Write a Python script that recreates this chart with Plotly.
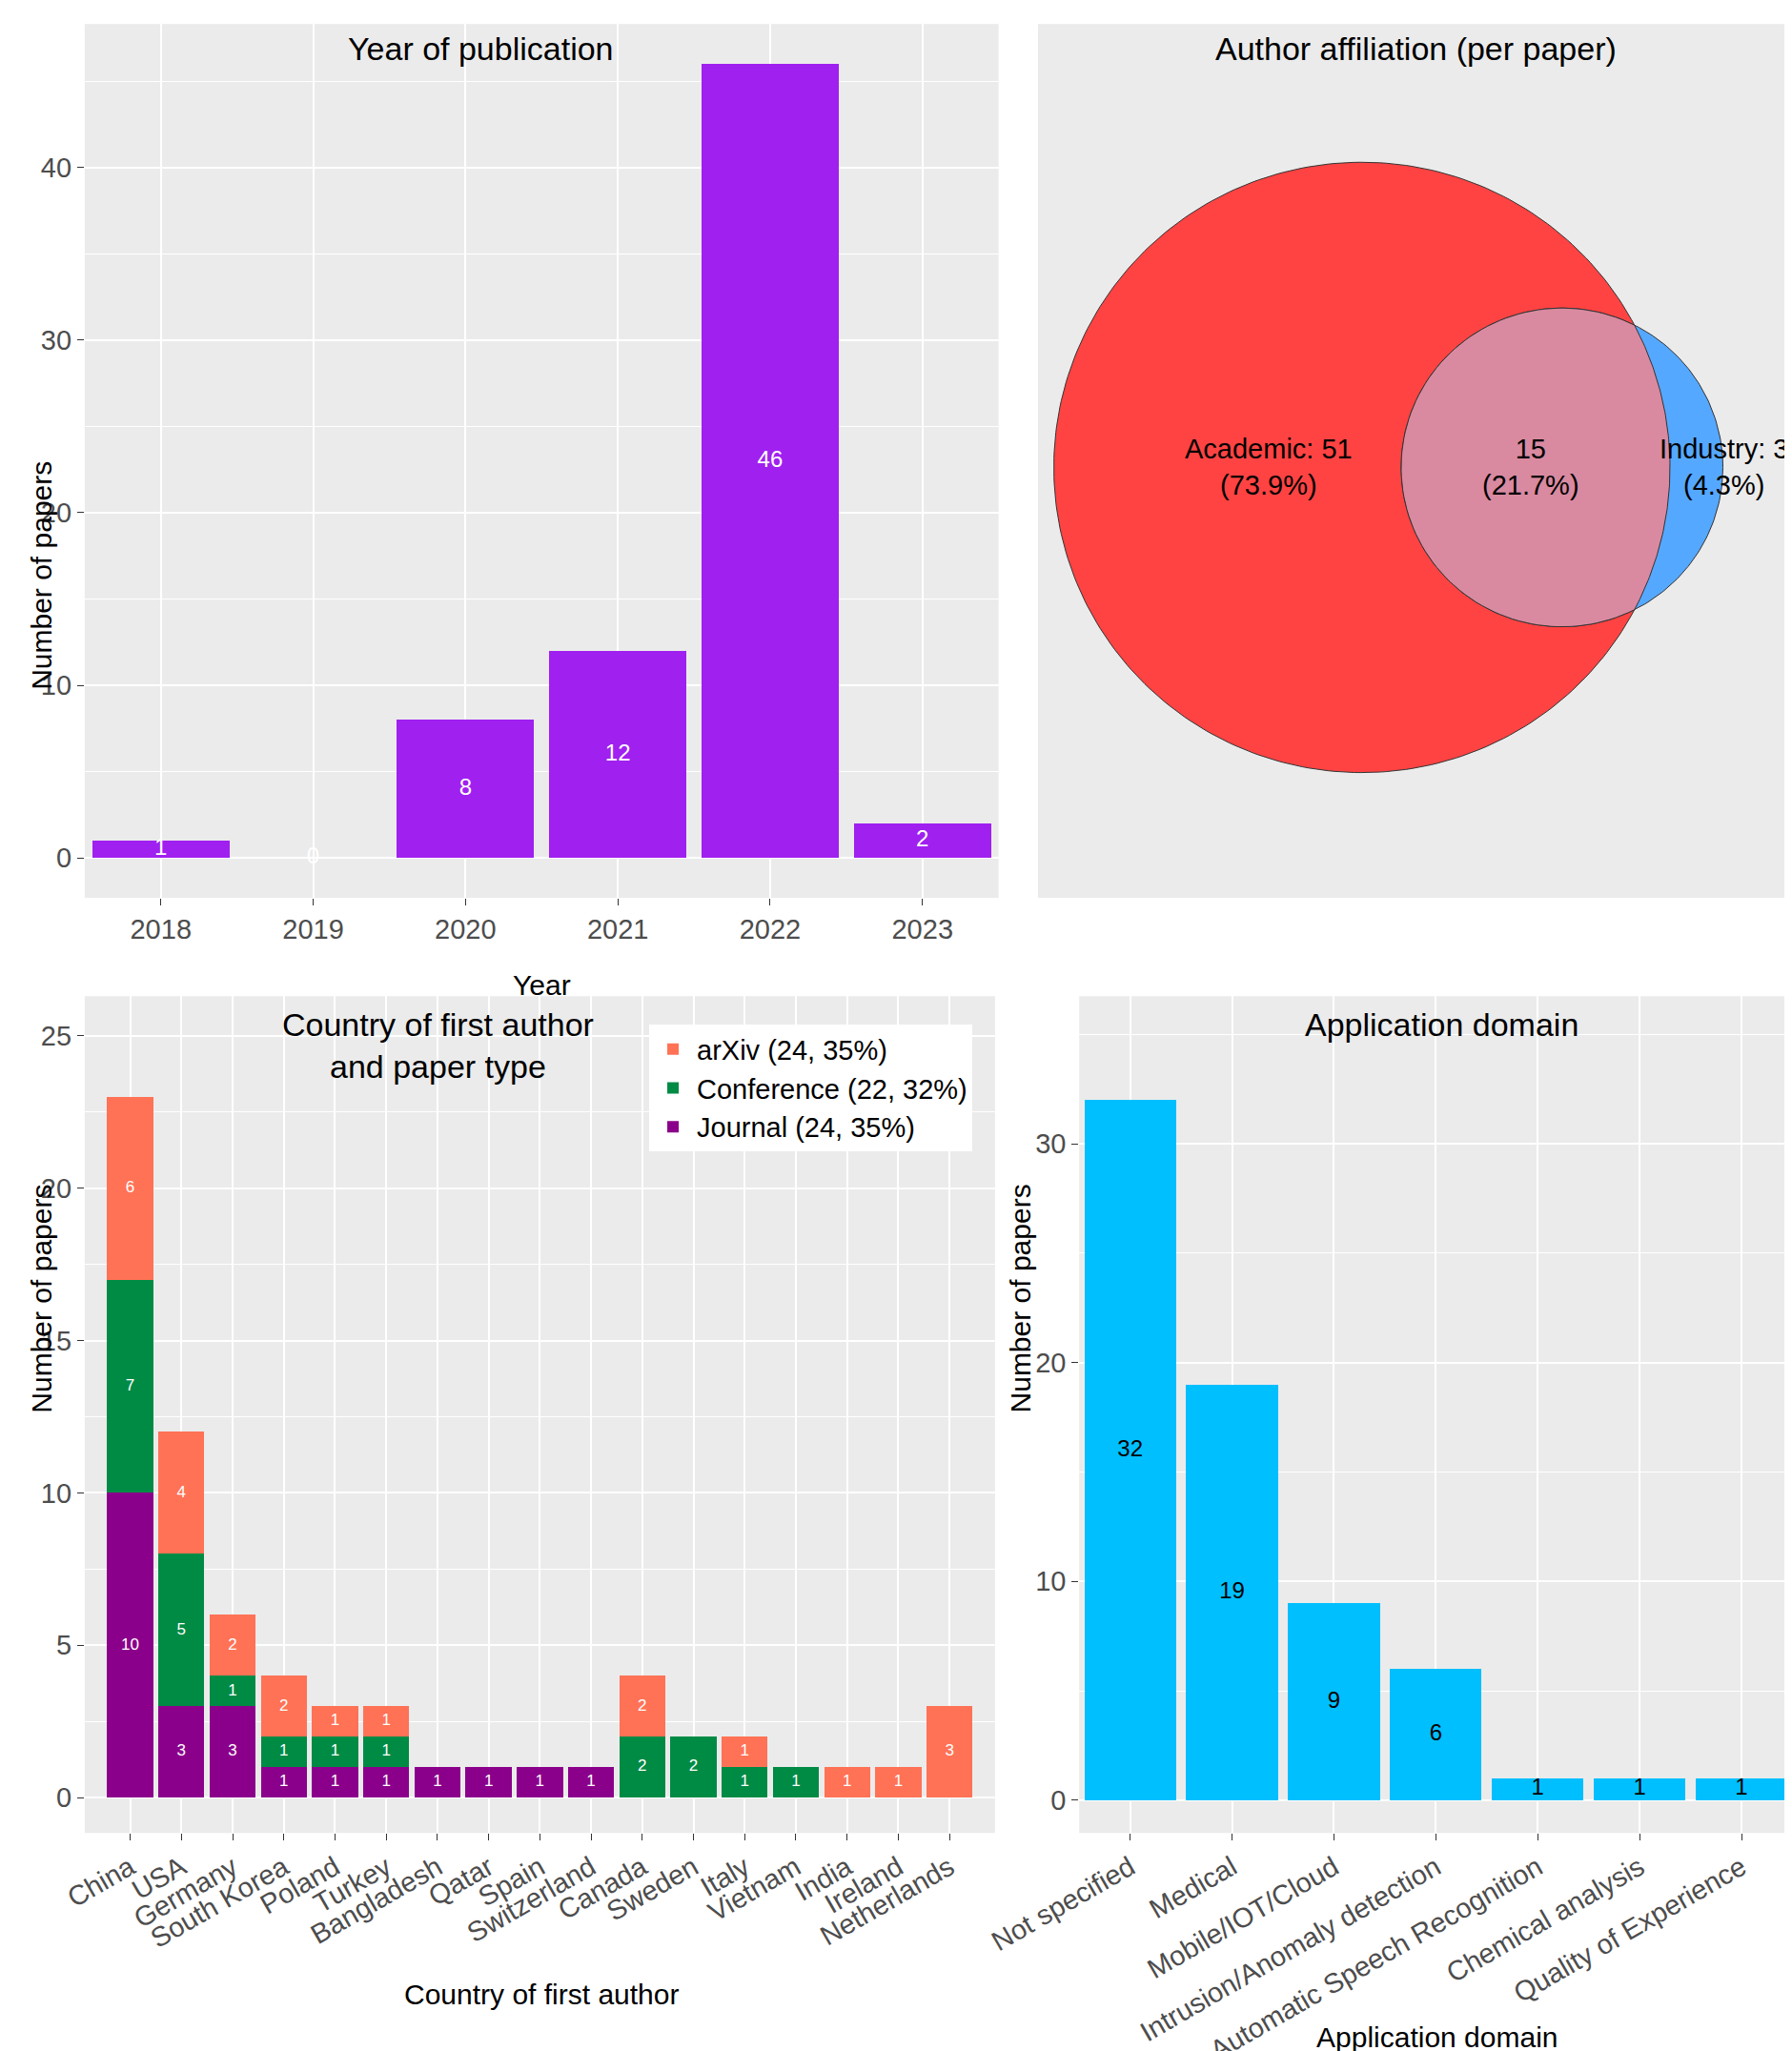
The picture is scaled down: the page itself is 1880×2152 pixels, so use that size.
import numpy as np
import plotly.graph_objects as go

years = ["2018", "2019", "2020", "2021", "2022", "2023"]
year_counts = [1, 0, 8, 12, 46, 2]

venn_academic_only = 51
venn_both = 15
venn_industry_only = 3

countries = ["China", "USA", "Germany", "South Korea", "Poland", "Turkey", "Bangladesh", "Qatar",
             "Spain", "Switzerland", "Canada", "Sweden", "Italy", "Vietnam", "India", "Ireland", "Netherlands"]
journal = [10, 3, 3, 1, 1, 1, 1, 1, 1, 1, 0, 0, 0, 0, 0, 0, 0]
conference = [7, 5, 1, 1, 1, 1, 0, 0, 0, 0, 2, 2, 1, 1, 0, 0, 0]
arxiv = [6, 4, 2, 2, 1, 1, 0, 0, 0, 0, 2, 0, 1, 0, 1, 1, 3]
type_names = ["Journal (24, 35%)", "Conference (22, 32%)", "arXiv (24, 35%)"]

domains = ["Not specified", "Medical", "Mobile/IOT/Cloud", "Intrusion/Anomaly detection",
           "Automatic Speech Recognition", "Chemical analysis", "Quality of Experience"]
domain_counts = [32, 19, 9, 6, 1, 1, 1]

FONT = "Liberation Sans, Arial, sans-serif"
BG = "#EBEBEB"
fig = go.Figure()

fig.add_trace(go.Bar(x=years, y=year_counts, marker_color="#A020F0", marker_line_width=0,
                     showlegend=False, xaxis="x", yaxis="y"))
fig.add_trace(go.Scatter(x=years, y=[v / 2 for v in year_counts], text=[str(v) for v in year_counts],
                         mode="text", textfont=dict(color="white", size=24, family=FONT),
                         showlegend=False, xaxis="x", yaxis="y", hoverinfo="skip"))

cols = ["#8B008B", "#008B45", "#FF7256"]
base = [0] * len(countries)
for name, vals, c in zip(type_names, [journal, conference, arxiv], cols):
    fig.add_trace(go.Bar(x=countries, y=vals, name=name, marker_color=c, marker_line_width=0,
                         xaxis="x3", yaxis="y3"))
    mids = [b + v / 2 for b, v in zip(base, vals)]
    fig.add_trace(go.Scatter(x=countries, y=mids, text=[str(v) if v else "" for v in vals],
                             mode="text", textfont=dict(color="white", size=17, family=FONT),
                             showlegend=False, xaxis="x3", yaxis="y3", hoverinfo="skip"))
    base = [b + v for b, v in zip(base, vals)]

fig.add_trace(go.Bar(x=domains, y=domain_counts, marker_color="#00BFFF", marker_line_width=0,
                     showlegend=False, xaxis="x4", yaxis="y4"))
fig.add_trace(go.Scatter(x=domains, y=[v / 2 for v in domain_counts], text=[str(v) for v in domain_counts],
                         mode="text", textfont=dict(color="black", size=24, family=FONT),
                         showlegend=False, xaxis="x4", yaxis="y4", hoverinfo="skip"))

a_tot = venn_academic_only + venn_both
i_tot = venn_industry_only + venn_both
R1 = 234.0
R2 = R1 * np.sqrt(i_tot / a_tot)
c1 = (1028.0, 352.0)
c2 = (1180.0, 352.0)
t = np.linspace(0, 2 * np.pi, 300)
fig.add_trace(go.Scatter(x=c1[0] + R1 * np.cos(t), y=c1[1] + R1 * np.sin(t), fill="toself",
                         fillcolor="#FF4343", line=dict(color="#333", width=1), mode="lines",
                         showlegend=False, xaxis="x2", yaxis="y2", hoverinfo="skip"))
fig.add_trace(go.Scatter(x=c2[0] + R2 * np.cos(t), y=c2[1] + R2 * np.sin(t), fill="toself",
                         fillcolor="#55A8FF", line=dict(color="#333", width=1), mode="lines",
                         showlegend=False, xaxis="x2", yaxis="y2", hoverinfo="skip"))
d = c2[0] - c1[0]
xi = (d ** 2 - R2 ** 2 + R1 ** 2) / (2 * d)
yi = np.sqrt(R1 ** 2 - xi ** 2)
a1 = np.arctan2(yi, xi)
a2 = np.arctan2(yi, xi - d)
s1 = np.linspace(-a1, a1, 100)
s2 = np.linspace(a2, 2 * np.pi - a2, 100)
lx = np.concatenate([c1[0] + R1 * np.cos(s1), c2[0] + R2 * np.cos(s2)])
ly = np.concatenate([c1[1] + R1 * np.sin(s1), c2[1] + R2 * np.sin(s2)])
fig.add_trace(go.Scatter(x=lx, y=ly, fill="toself", fillcolor="#D98AA0", line=dict(color="#333", width=1),
                         mode="lines", showlegend=False, xaxis="x2", yaxis="y2", hoverinfo="skip"))
tot = a_tot + venn_industry_only
venn_labels = [
    (957, f"Academic: {venn_academic_only}<br>({100*venn_academic_only/tot:.1f}%)"),
    (1156, f"{venn_both}<br>({100*venn_both/tot:.1f}%)"),
    (1303, f"Industry: {venn_industry_only}<br>({100*venn_industry_only/tot:.1f}%)"),
]
for x, txt in venn_labels:
    fig.add_annotation(x=x, y=352, text=txt, showarrow=False, xref="x2", yref="y2",
                       font=dict(size=29, color="black", family=FONT))

ax_common = dict(showgrid=True, gridcolor="white", gridwidth=2, ticks="outside", ticklen=7,
                 tickcolor="#333", tickfont=dict(size=29, color="#4D4D4D", family=FONT), zeroline=False,
                 showline=False, automargin=False)
TS = 30

fig.update_layout(
    width=1880, height=2152, margin=dict(l=0, r=0, t=0, b=0),
    paper_bgcolor="white", plot_bgcolor=BG, bargap=0.1, barmode="stack",
    font=dict(family=FONT, color="black"),
    xaxis=dict(ax_common, domain=[0.043, 0.553], anchor="y"),
    yaxis=dict(ax_common, domain=[0.566, 0.992], anchor="x", range=[-2.3, 48.3], tickvals=[0, 10, 20, 30, 40],
               minor=dict(showgrid=True, gridcolor="white", gridwidth=1, tickvals=[5, 15, 25, 35, 45])),
    xaxis2=dict(domain=[0.575, 0.996], anchor="y2", range=[782, 1355], visible=False),
    yaxis2=dict(domain=[0.566, 0.992], anchor="x2", range=[682, 12], visible=False),
    xaxis3=dict(ax_common, domain=[0.043, 0.551], anchor="y3", tickangle=-30),
    yaxis3=dict(ax_common, domain=[0.110, 0.518], anchor="x3", range=[-1.16, 26.3], tickvals=[0, 5, 10, 15, 20, 25],
                minor=dict(showgrid=True, gridcolor="white", gridwidth=1, tickvals=[2.5, 7.5, 12.5, 17.5, 22.5])),
    xaxis4=dict(ax_common, domain=[0.598, 0.996], anchor="y4", tickangle=-30),
    yaxis4=dict(ax_common, domain=[0.110, 0.518], anchor="x4", range=[-1.5, 36.75], tickvals=[0, 10, 20, 30],
                minor=dict(showgrid=True, gridcolor="white", gridwidth=1, tickvals=[5, 15, 25, 35])),
    legend=dict(x=0.358, y=0.504, xanchor="left", yanchor="top", traceorder="reversed",
                bgcolor="white", font=dict(size=29, family=FONT), borderwidth=0, itemwidth=40),
)
ann = [
    ("Year of publication", 0.264, 0.99, 0, 34),
    ("Author affiliation (per paper)", 0.786, 0.99, 0, 34),
    ("Country of first author<br>and paper type", 0.24, 0.514, 0, 34),
    ("Application domain", 0.8, 0.514, 0, 34),
    ("Year", 0.298, 0.532, 0, TS),
    ("Country of first author", 0.298, 0.040, 0, TS),
    ("Application domain", 0.798, 0.002, 0, TS),
]
for txt, x, y, ang, sz in ann:
    fig.add_annotation(text=txt, x=x, y=y, xref="paper", yref="paper", xanchor="center", yanchor="top"
                       if y > 0.01 else "bottom", showarrow=False, font=dict(size=sz, family=FONT))
for x, y in [(0.009, 0.78), (0.009, 0.314), (0.565, 0.314)]:
    fig.add_annotation(text="Number of papers", x=x, y=y, xref="paper", yref="paper", textangle=-90,
                       showarrow=False, font=dict(size=TS, family=FONT))
fig.write_html("out.html")
